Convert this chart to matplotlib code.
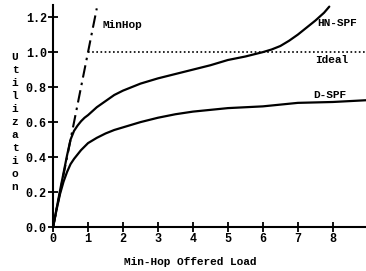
import matplotlib
matplotlib.use("Agg")
import matplotlib.pyplot as plt

# Data
hn_x = [0, 0.2, 0.4, 0.5, 0.6, 0.7, 0.8, 0.9, 1.0, 1.25, 1.5, 1.75, 2, 2.5, 3, 3.5, 4, 4.5, 5,
        5.5, 6, 6.25, 6.5, 6.75, 7, 7.25, 7.5, 7.75, 7.9]
hn_y = [0, 0.21, 0.41, 0.5, 0.55, 0.58, 0.605, 0.625, 0.64, 0.685, 0.72, 0.755, 0.78, 0.82, 0.85,
        0.875, 0.90, 0.925, 0.955, 0.975, 1.0, 1.015, 1.035, 1.065, 1.10, 1.14, 1.18, 1.225, 1.26]

dspf_x = [0, 0.1, 0.2, 0.3, 0.4, 0.5, 0.6, 0.7, 0.8, 0.9, 1.0, 1.25, 1.5, 1.75, 2, 2.5, 3, 3.5,
          4, 5, 6, 7, 8, 8.95]
dspf_y = [0, 0.1, 0.19, 0.26, 0.315, 0.36, 0.39, 0.415, 0.44, 0.46, 0.48, 0.51, 0.535, 0.555,
          0.57, 0.60, 0.625, 0.645, 0.66, 0.68, 0.69, 0.71, 0.715, 0.725]

minhop_x = [0, 1.25]
minhop_y = [0, 1.25]

ideal_x = [1, 8.95]
ideal_y = [1, 1]

xticks = [0, 1, 2, 3, 4, 5, 6, 7, 8]
yticks = [0.0, 0.2, 0.4, 0.6, 0.8, 1.0, 1.2]

FONT = "Liberation Mono"

fig = plt.figure(figsize=(3.66, 2.71), dpi=100)
ax = fig.add_axes([0.145, 0.162, 0.855, 0.82])

ax.plot(hn_x, hn_y, color="black", lw=1.6, solid_capstyle="round", solid_joinstyle="round")
ax.plot(dspf_x, dspf_y, color="black", lw=1.6, solid_capstyle="round", solid_joinstyle="round")
ax.plot(minhop_x, minhop_y, color="black", lw=1.5, linestyle=(0, (6, 2.5, 1.2, 2.5)))
ax.plot(ideal_x, ideal_y, color="black", lw=1.2, linestyle=(0, (1, 1.5)))

ax.set_xlim(0, 8.95)
ax.set_ylim(0, 1.27)
ax.set_xticks(xticks)
ax.set_xticklabels([str(t) for t in xticks])
ax.set_yticks(yticks)
ax.set_yticklabels([f"{t:.1f}" for t in yticks])

for s in ["top", "right"]:
    ax.spines[s].set_visible(False)
for s in ["left", "bottom"]:
    ax.spines[s].set_linewidth(1.5)

ax.tick_params(direction="inout", length=7, width=1.3, labelsize=8.5, pad=1)
for lab in ax.get_xticklabels() + ax.get_yticklabels():
    lab.set_fontfamily(FONT)
    lab.set_fontweight("bold")

tkw = dict(fontfamily=FONT, fontweight="bold", fontsize=8)
ax.text(1.4, 1.14, "MinHop", **tkw)
ax.text(7.57, 1.15, "HN-SPF", **tkw)
ax.text(7.49, 0.94, "Ideal", **tkw)
ax.text(7.43, 0.74, "D-SPF", **tkw)

fig.text(190 / 366, 1 - 262 / 271, "Min-Hop Offered Load", ha="center", va="center", **tkw)
fig.text(15 / 366, 1 - 122 / 271, "\n".join("Utilization"), ha="center", va="center",
         linespacing=1.38, **tkw)

fig.savefig("out.png", dpi=100)
